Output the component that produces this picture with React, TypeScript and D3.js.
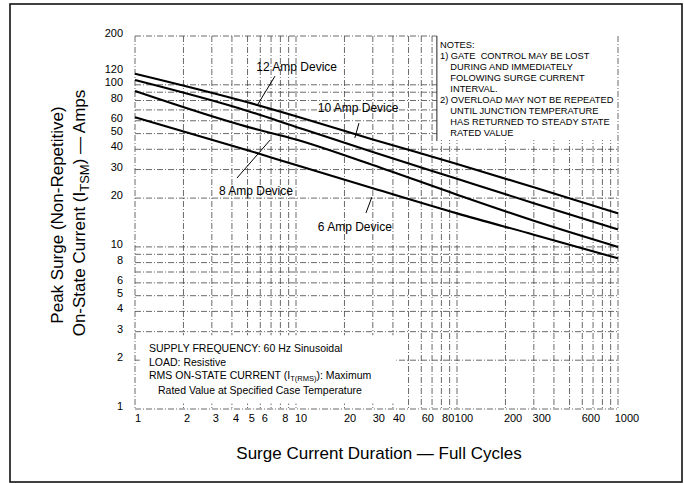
import React, { useEffect, useRef } from "react";
import * as d3 from "d3";

const W = 684;
const H = 483;
const FONT = "'Liberation Sans', Arial, Helvetica, sans-serif";

// full cycles at which the curves were read
const durations = [1, 5, 10, 30, 100, 300, 1000];
const amps12 = [117, 78, 64, 46, 32.5, 23.3, 16.1];
const amps10 = [107, 69, 55, 38.5, 26.3, 18.6, 12.8];
const amps8 = [91.5, 55, 46, 32, 21, 14.5, 10.0];
const amps6 = [63, 39.5, 32, 23, 16.1, 11.9, 8.5];

const xTickValues = [1, 2, 3, 4, 5, 6, 8, 10, 20, 30, 40, 60, 80, 100, 200, 300, 600, 1000];
const yTickValues = [200, 120, 100, 80, 60, 50, 40, 30, 20, 10, 8, 6, 5, 4, 3, 2, 1];
const xGridValues = [1, 2, 3, 4, 5, 6, 7, 8, 9, 10, 20, 30, 40, 50, 60, 70, 80, 90, 100, 200, 300, 400, 500, 600, 700, 800, 900, 1000];
const yGridValues = [1, 2, 3, 4, 5, 6, 7, 8, 9, 10, 20, 30, 40, 50, 60, 70, 80, 90, 100, 200];

// label text, label centre (cycles, amps), leader from/to (cycles, amps)
const annotations = [
  { text: "12 Amp Device", at: [10.1, 129], from: [7.4, 113], to: [5.8, 76] },
  { text: "10 Amp Device", at: [24.3, 72], from: [24.6, 58], to: [23.2, 47] },
  { text: "8 Amp Device", at: [5.64, 22.1], from: [4.3, 26.6], to: [6.9, 45.6] },
  { text: "6 Amp Device", at: [23.2, 13.3], from: [27.2, 16.2], to: [29.6, 20.3] },
];

const notes = [
  "NOTES:",
  "1) GATE  CONTROL MAY BE LOST",
  "    DURING AND IMMEDIATELY",
  "    FOLOWING SURGE CURRENT",
  "    INTERVAL.",
  "2) OVERLOAD MAY NOT BE REPEATED",
  "    UNTIL JUNCTION TEMPERATURE",
  "    HAS RETURNED TO STEADY STATE",
  "    RATED VALUE",
];

const App = () => {
  const svgRef = useRef<SVGSVGElement>(null);

  useEffect(() => {
    const svg = d3.select(svgRef.current);
    svg.selectAll("*").remove();

    const left = 135, right = 618, top = 36, bottom = 409;
    const x = d3.scaleLog().domain([1, 1000]).range([left, right]);
    const y = d3.scaleLog().domain([1, 200]).range([bottom, top]);

    // outer frame
    svg.append("rect")
      .attr("x", 10).attr("y", 4).attr("width", 672).attr("height", 478)
      .attr("fill", "white").attr("stroke", "#111").attr("stroke-width", 1.6);

    const grid = svg.append("g")
      .attr("stroke", "#444").attr("stroke-width", 0.8)
      .attr("stroke-dasharray", "6,2,1,2");

    grid.selectAll("line.v").data(xGridValues).enter().append("line")
      .attr("x1", d => x(d)).attr("x2", d => x(d))
      .attr("y1", top).attr("y2", bottom);
    grid.selectAll("line.h").data(yGridValues).enter().append("line")
      .attr("x1", left).attr("x2", right)
      .attr("y1", d => y(d)).attr("y2", d => y(d));

    // blank panels behind the notes
    svg.append("rect")
      .attr("x", x(75)).attr("y", top - 1)
      .attr("width", right - x(75) - 1).attr("height", y(45) - top)
      .attr("fill", "white");
    svg.append("line")
      .attr("x1", x(75)).attr("x2", x(75))
      .attr("y1", top).attr("y2", y(45))
      .attr("stroke", "#222").attr("stroke-width", 1);
    svg.append("rect")
      .attr("x", x(1.07)).attr("y", y(2.85))
      .attr("width", x(42) - x(1.07)).attr("height", y(1.08) - y(2.85))
      .attr("fill", "white");

    // curves
    const line = d3.line<[number, number]>()
      .x(d => x(d[0]))
      .y(d => y(d[1]))
      .curve(d3.curveMonotoneX);

    [amps12, amps10, amps8, amps6].forEach(vals => {
      svg.append("path")
        .datum(durations.map((t, i) => [t, vals[i]] as [number, number]))
        .attr("d", line)
        .attr("fill", "none")
        .attr("stroke", "#000")
        .attr("stroke-width", 2.1);
    });

    // annotations
    annotations.forEach(a => {
      svg.append("line")
        .attr("x1", x(a.from[0])).attr("y1", y(a.from[1]))
        .attr("x2", x(a.to[0])).attr("y2", y(a.to[1]))
        .attr("stroke", "#000").attr("stroke-width", 1);
      svg.append("text")
        .attr("x", x(a.at[0])).attr("y", y(a.at[1]) + 4)
        .attr("text-anchor", "middle")
        .attr("font-family", FONT).attr("font-size", 12)
        .text(a.text);
    });

    // tick labels
    svg.append("g").selectAll("text").data(xTickValues).enter().append("text")
      .attr("x", d => x(d) + 3 + 2 * Math.log10(d))
      .attr("y", 422)
      .attr("text-anchor", "middle")
      .attr("font-family", FONT).attr("font-size", 11)
      .text(d => String(d));

    svg.append("g").selectAll("text").data(yTickValues).enter().append("text")
      .attr("x", 123)
      .attr("y", d => y(d) + 1)
      .attr("text-anchor", "end")
      .attr("font-family", FONT).attr("font-size", 11)
      .text(d => String(d));

    // notes
    svg.append("g").selectAll("text").data(notes).enter().append("text")
      .attr("x", 440)
      .attr("y", (d, i) => 48 + i * 11)
      .attr("font-family", FONT).attr("font-size", 9.3)
      .attr("xml:space", "preserve")
      .style("white-space", "pre")
      .text(d => d);

    const cond = svg.append("g").attr("font-family", FONT).attr("font-size", 10.5);
    cond.append("text").attr("x", 149).attr("y", 352).text("SUPPLY FREQUENCY: 60 Hz Sinusoidal");
    cond.append("text").attr("x", 149).attr("y", 366).text("LOAD: Resistive");
    const rms = cond.append("text").attr("x", 149).attr("y", 379);
    rms.append("tspan").text("RMS ON-STATE CURRENT (I");
    rms.append("tspan").attr("font-size", 7.5).attr("dy", 2).text("T(RMS)");
    rms.append("tspan").attr("dy", -2).text("): Maximum");
    cond.append("text").attr("x", 158).attr("y", 394).text("Rated Value at Specified Case Temperature");

    // axis titles
    svg.append("text")
      .attr("x", 379).attr("y", 459)
      .attr("text-anchor", "middle")
      .attr("font-family", FONT).attr("font-size", 17)
      .text("Surge Current Duration \u2014 Full Cycles");

    svg.append("text")
      .attr("transform", "translate(63,215) rotate(-90)")
      .attr("text-anchor", "middle")
      .attr("font-family", FONT).attr("font-size", 17)
      .text("Peak Surge (Non-Repetitive)");

    const t2 = svg.append("text")
      .attr("transform", "translate(85,213) rotate(-90)")
      .attr("text-anchor", "middle")
      .attr("font-family", FONT).attr("font-size", 17);
    t2.append("tspan").text("On-State Current (I");
    t2.append("tspan").attr("font-size", 13).attr("dy", 4).text("TSM");
    t2.append("tspan").attr("dy", -4).text(") \u2014 Amps");
  }, []);

  return (
    <svg
      ref={svgRef}
      width={W}
      height={H}
      style={{ position: "absolute", left: 0, top: 0, background: "white" }}
    />
  );
};

export default App;
